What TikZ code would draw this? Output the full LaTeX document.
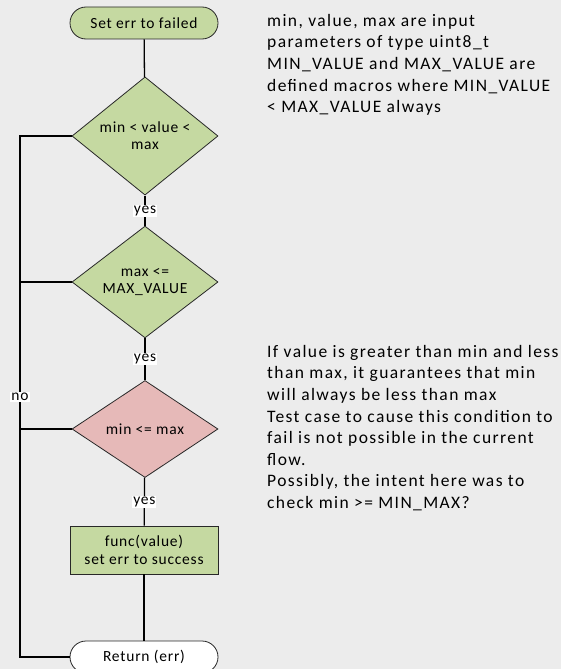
\documentclass[tikz,border=0pt]{standalone}
\usepackage{fontspec}
\setmainfont{Carlito}
\newfontfamily\notefont[LetterSpace=8]{Carlito}
\newfontfamily\boxfont[LetterSpace=5]{Carlito}
\usetikzlibrary{shapes.geometric,shapes.misc}
\definecolor{bgc}{RGB}{236,236,236}
\definecolor{gfill}{RGB}{197,217,161}
\definecolor{rfill}{RGB}{230,185,184}
\definecolor{edgec}{RGB}{40,40,40}
\tikzset{
  term/.style={rounded rectangle, draw=edgec, line width=0.8pt, minimum width=148pt, minimum height=32pt, inner sep=0pt, font=\boxfont\fontsize{15.5}{17}\selectfont},
  dec/.style={diamond, draw=edgec, line width=0.8pt, minimum width=146pt, minimum height=97pt, inner sep=0pt, align=center, font=\boxfont\fontsize{15.5}{16.7}\selectfont},
  procbox/.style={rectangle, draw=edgec, line width=0.8pt, fill=gfill, minimum width=148pt, minimum height=48pt, inner sep=0pt, align=center, font=\boxfont\fontsize{15.5}{17.3}\selectfont},
  conn/.style={draw=black, line width=1.3pt},
  lbl/.style={fill=white, inner sep=1pt, font=\boxfont\fontsize{15.5}{17}\selectfont},
  note/.style={anchor=north west, inner sep=0pt, align=left, font=\notefont\fontsize{17.5}{21.6}\selectfont}
}
\begin{document}
\begin{tikzpicture}[x=1pt,y=-1pt]
\fill[bgc] (0,0) rectangle (561,669);
\useasboundingbox (0,0) rectangle (561,669);
\node[term, fill=gfill] (start) at (144,23) {Set err to failed};
\node[dec, fill=gfill] (d1) at (145,136) {min < value <\\max};
\node[dec, fill=gfill] (d2) at (145,282) {max <=\\MAX\_VALUE};
\node[dec, fill=rfill] (d3) at (145,429) {min <= max};
\node[procbox] (proc) at (144,550) {func(value)\\set err to success};
\node[term, fill=white] (ret) at (144,657) {Return (err)};
\coordinate (c1) at (20,136);
\coordinate (c2) at (20,282);
\coordinate (c3) at (20,429);
\coordinate (c4) at (20,657);
\draw[conn] (start) -- (d1);
\draw[conn] (d1) -- node[lbl] (y1) {yes} (d2);
\draw[conn] (d2) -- node[lbl] (y2) {yes} (d3);
\draw[conn] (d3) -- node[lbl, pos=0.5] (y3) {yes} (proc);
\draw[conn] (proc) -- (ret);
\draw[conn] (d1.west) -- (c1) -- (c4) -- (ret.west);
\draw[conn] (d2.west) -- (c2);
\draw[conn] (d3.west) -- (c3);
\node[lbl] (no) at (20,397) {no};
\node[note] (n1) at (267,14) {min, value, max are input\\parameters of type uint8\_t\\MIN\_VALUE and MAX\_VALUE are\\defined macros where MIN\_VALUE\\< MAX\_VALUE always};
\node[note] (n2) at (267,345) {If value is greater than min and less\\than max, it guarantees that min\\will always be less than max\\Test case to cause this condition to\\fail is not possible in the current\\flow.\\Possibly, the intent here was to\\check min >= MIN\_MAX?};
\end{tikzpicture}
\end{document}
